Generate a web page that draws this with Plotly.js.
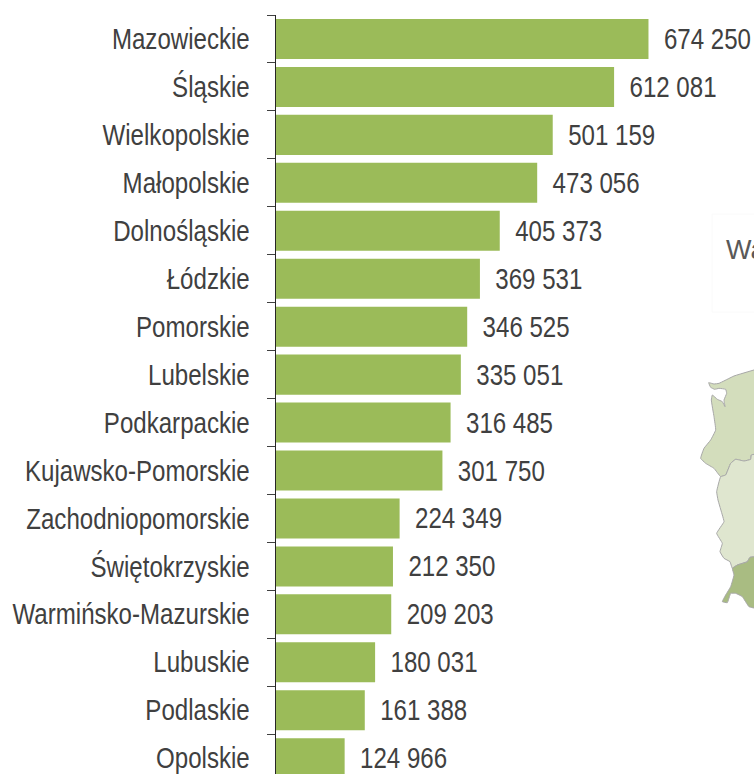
<!DOCTYPE html>
<html><head><meta charset="utf-8">
<script src="https://cdn.plot.ly/plotly-3.0.1.min.js"></script>
<style>html,body{margin:0;padding:0;background:#fff;overflow:hidden}</style>
</head><body><div id="chart" style="width:754px;height:774px"></div>
<script>
const regions=["Mazowieckie","Śląskie","Wielkopolskie","Małopolskie","Dolnośląskie","Łódzkie","Pomorskie","Lubelskie","Podkarpackie","Kujawsko-Pomorskie","Zachodniopomorskie","Świętokrzyskie","Warmińsko-Mazurskie","Lubuskie","Podlaskie","Opolskie"];
const values=[674250,612081,501159,473056,405373,369531,346525,335051,316485,301750,224349,212350,209203,180031,161388,124966];
const labels=["674 250","612 081","501 159","473 056","405 373","369 531","346 525","335 051","316 485","301 750","224 349","212 350","209 203","180 031","161 388","124 966"];
const F="'Liberation Sans',Arial,sans-serif";
const CONDENSE=0.83;

// map fragment at the right edge, outlines in page pixels (zoom-crop origin + crop coords / 3)
const px=(ox,pts)=>pts.map(p=>ox+p/3);
const zachX=px(694,[190,120,75,60,44,50,62,75,95,98,90,93,85,70,55,52,60,65,50,30,20,35,60,80,95,110,125,150,170,172,190]);
const zachY=px(360,[27,48,70,72,68,82,88,85,88,100,120,140,125,118,105,120,170,210,240,265,295,310,325,350,345,310,298,303,298,285,282]);
const lubX=px(694,[80,95,110,125,150,170,172,190,190,168,160,130,115,108,90,78,85,68,90,85,72,68,80]);
const lubY=px(360,[350,345,310,298,303,298,285,282,590,592,605,615,625,605,595,575,550,520,485,465,420,395,350]);
const dolX=px(694,[115,130,160,168,190,190,165,145,125,110,100,85,95,110,120,115]);
const dolY=px(480,[265,255,245,232,230,385,380,350,340,340,368,365,345,320,285,265]);
const boxX=[760,712,712,760],boxY=[214,214,312,312];

const poly=(x,y,c)=>({type:'scatter',mode:'lines',x,y,xaxis:'x2',yaxis:'y2',fill:'toself',fillcolor:c,line:{color:'#A8A8A8',width:1,shape:'spline',smoothing:0.3},hoverinfo:'skip'});
Plotly.newPlot('chart',[
 {type:'scatter',mode:'lines',x:boxX,y:boxY,xaxis:'x2',yaxis:'y2',line:{color:'#FAFAFA',width:1},hoverinfo:'skip'},
 poly(zachX,zachY,'#D3DDBC'),poly(lubX,lubY,'#DFE6CF'),poly(dolX,dolY,'#A9BC82'),
 {type:'bar',orientation:'h',y:regions,x:values,text:labels,textposition:'outside',cliponaxis:false,
 textfont:{family:F,size:29,color:'#404040'},marker:{color:'#9BBB59'},width:0.835,hoverinfo:'skip'}],
{width:754,height:774,margin:{l:0,r:0,t:0,b:0,pad:0},paper_bgcolor:'#fff',plot_bgcolor:'rgba(0,0,0,0)',showlegend:false,
 xaxis:{domain:[0.3654,1],range:[0,865000],visible:false},
 yaxis:{domain:[0,0.9806],range:[15.33,-0.5],type:'category',tickson:'boundaries',ticks:'outside',ticklen:8,tickwidth:1,tickcolor:'#404040',
  showline:true,linecolor:'#262626',linewidth:1,showgrid:false,tickfont:{family:F,size:29,color:'#404040'},ticklabelstandoff:19,automargin:false},
 xaxis2:{domain:[0,1],range:[0,754],visible:false,anchor:'y2'},
 yaxis2:{domain:[0,1],range:[774,0],visible:false,anchor:'x2'},
 annotations:[{xref:'x2',yref:'y2',x:724,y:250,text:'Wa',showarrow:false,xanchor:'left',yanchor:'middle',font:{family:F,size:27,color:'#595959'}}]
},{staticPlot:true}).then(()=>{
 const squeeze=(sel,dx)=>document.querySelectorAll(sel).forEach(t=>{
  const w=t.getComputedTextLength();
  t.setAttribute('textLength',w*CONDENSE);
  t.setAttribute('lengthAdjust','spacingAndGlyphs');
  if(dx)t.setAttribute('dx',dx);
 });
 squeeze('.ytick text');
 squeeze('.bartext text, text.bartext',3.5);
});
</script></body></html>
